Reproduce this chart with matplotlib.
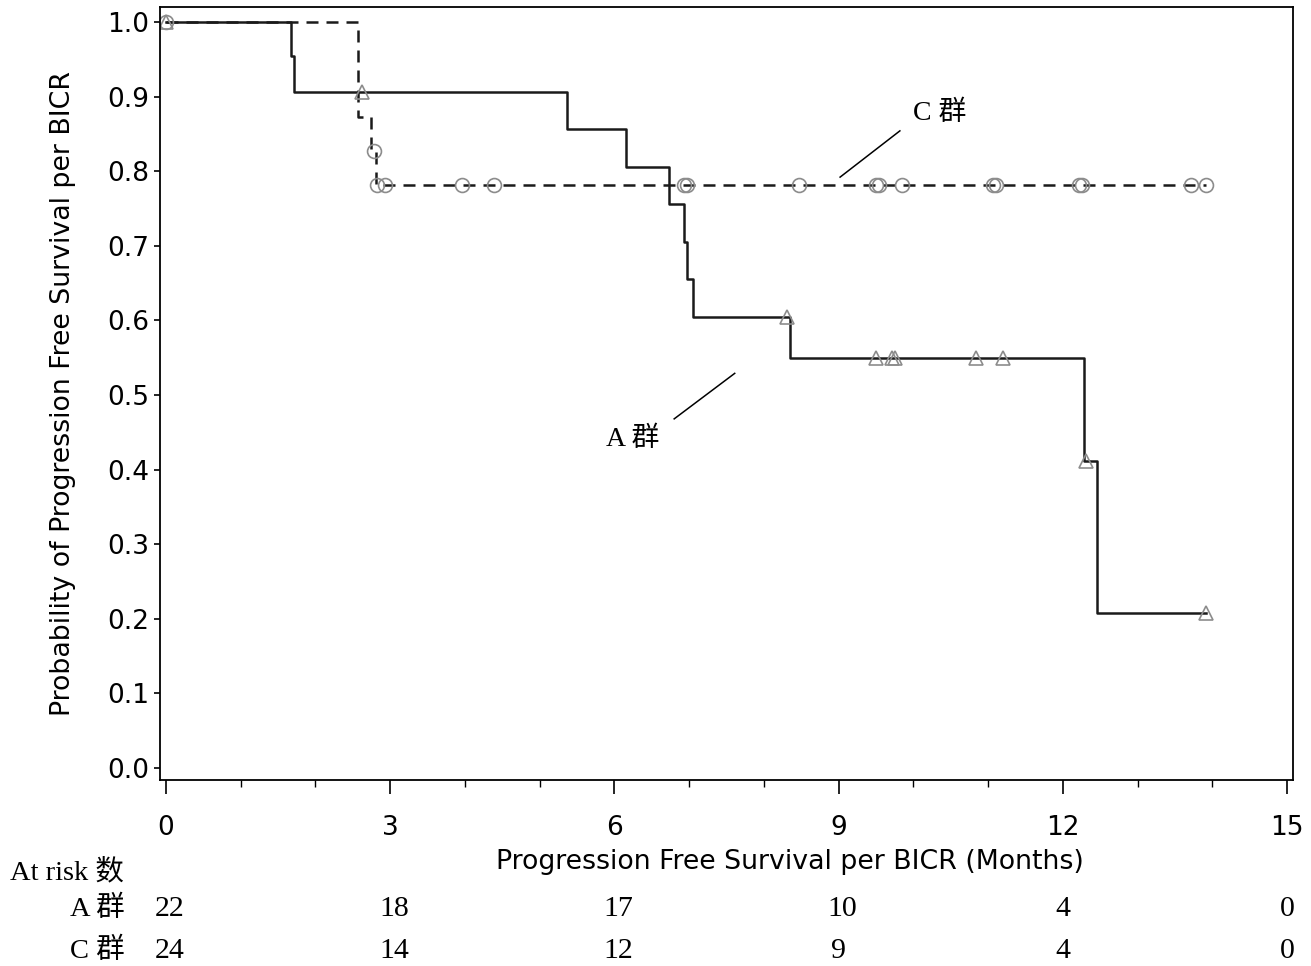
import numpy as np
import matplotlib.pyplot as plt
from matplotlib.transforms import ScaledTranslation

OUTPUT_FILE = "out.png"

# Kaplan-Meier steps
a_times = [0, 1.67, 1.71, 5.36, 6.16, 6.73, 6.93, 6.97, 7.05, 8.35, 12.29, 12.46, 13.91]
a_surv = [1.0, 0.954, 0.906, 0.856, 0.806, 0.756, 0.705, 0.655, 0.605, 0.550, 0.411, 0.208, 0.208]
a_censor = [0, 2.62, 8.31, 9.50, 9.72, 9.76, 10.84, 11.20, 12.31, 13.91]

c_times = [0, 2.57, 2.74, 2.81, 13.91]
c_surv = [1.0, 0.873, 0.827, 0.781, 0.781]
c_censor = [0, 2.78, 2.83, 2.93, 3.96, 4.39, 6.93, 6.97, 8.47, 9.50, 9.54,
            9.85, 11.06, 11.10, 12.21, 12.26, 13.71, 13.91]

risk_times = [0, 3, 6, 9, 12, 15]
risk_a = [22, 18, 17, 10, 4, 0]
risk_c = [24, 14, 12, 9, 4, 0]

SERIF = ["Liberation Serif", "Noto Sans CJK SC"]


def surv_at(times, surv, t):
    idx = np.searchsorted(times, t, side="right") - 1
    return np.array(surv)[idx]


fig = plt.figure(figsize=(13.11, 9.66), dpi=100)
ax = fig.add_axes([160 / 1311, 1 - 780 / 966, 1133 / 1311, 773 / 966])

ax.step(a_times, a_surv, where="post", color="#1a1a1a", linewidth=1.8)
ax.step(c_times, c_surv, where="post", color="#1a1a1a", linewidth=1.8,
        dashes=(4.8, 3.2))

ax.plot(a_censor, surv_at(a_times, a_surv, a_censor), linestyle="none",
        marker="^", markersize=10, markerfacecolor="none",
        markeredgecolor="#8c8c8c", markeredgewidth=1.2)
ax.plot(c_censor, surv_at(c_times, c_surv, c_censor), linestyle="none",
        marker="o", markersize=10, markerfacecolor="none",
        markeredgecolor="#8c8c8c", markeredgewidth=1.2)

ax.set_xlim(-0.08, 15.08)
ax.set_ylim(-0.016, 1.02)
ax.set_xticks(risk_times)
ax.set_xticks(np.arange(0, 16, 1), minor=True)
ax.set_yticks(np.arange(0, 1.01, 0.1))
ax.set_yticklabels([f"{v:.1f}" for v in np.arange(0, 1.01, 0.1)])
ax.tick_params(axis="x", which="major", length=10, width=1.2, pad=15,
               labelsize=19)
ax.tick_params(axis="x", which="minor", length=5, width=1.0)
ax.tick_params(axis="y", length=4.5, width=1.2, pad=3, labelsize=19)
for sp in ax.spines.values():
    sp.set_linewidth(1.3)

ax.set_ylabel("Probability of Progression Free Survival per BICR", fontsize=19.3)
ax.yaxis.set_label_coords(-0.074, 0.5)
ax.set_xlabel("Progression Free Survival per BICR (Months)", fontsize=19.3)
ax.xaxis.set_label_coords(0.556, -0.106)
ax.xaxis.label.set_verticalalignment("center")

# group labels with leader lines
ax.plot([9.02, 9.82], [0.792, 0.854], color="black", linewidth=1.1)
ax.text(10.0, 0.878, "C 群", family=SERIF, fontsize=20, ha="left", va="center")
ax.plot([6.80, 7.61], [0.468, 0.529], color="black", linewidth=1.1)
ax.text(6.24, 0.44, "A 群", family=SERIF, fontsize=20, ha="center", va="center")

# at-risk table
fig.text(10 / 1311, 1 - 872 / 966, "At risk 数", family=SERIF, fontsize=20.5,
         ha="left", va="center")
for label, counts, ypix in [("A 群", risk_a, 909), ("C 群", risk_c, 951)]:
    fig.text(125 / 1311, 1 - ypix / 966, label, family=SERIF, fontsize=20.5,
             ha="right", va="center")
    yax = (780 - ypix) / 773
    for t, n in zip(risk_times, counts):
        shift = 0.04 if n >= 10 else 0.0
        trans = ax.get_xaxis_transform() + ScaledTranslation(shift, 0, fig.dpi_scale_trans)
        ax.text(t, yax, str(n), transform=trans, family=SERIF, fontsize=21.5,
                ha="center", va="center", clip_on=False)

plt.savefig(OUTPUT_FILE, dpi=100)
